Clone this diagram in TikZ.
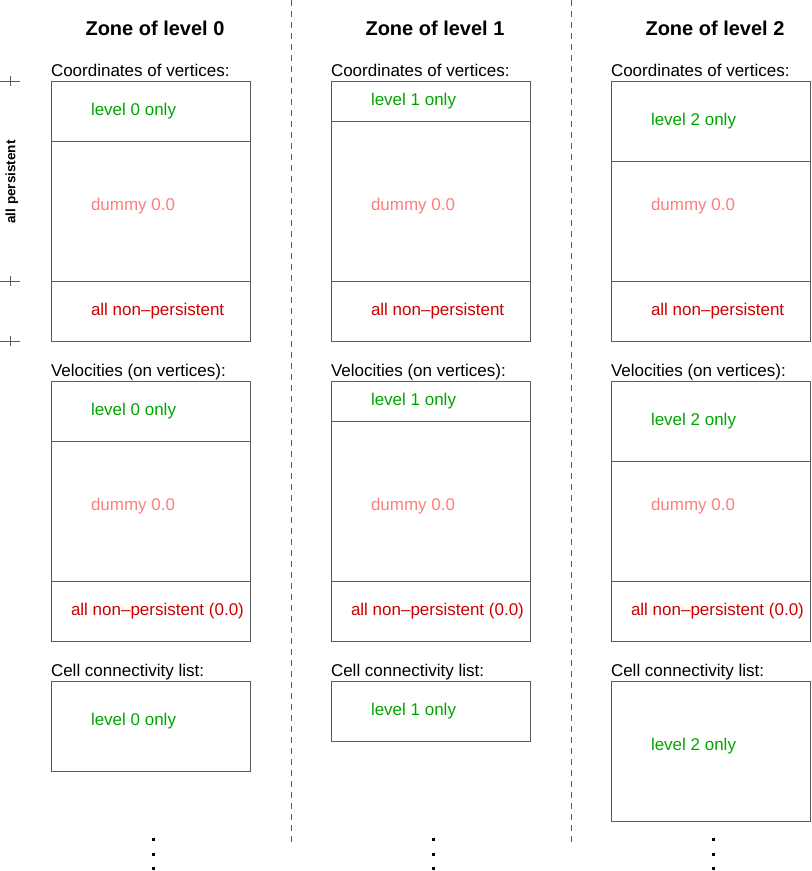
\documentclass[tikz,border=0pt]{standalone}
\usepackage{fontspec}
\setmainfont{Liberation Sans}
\usepackage{tikz}
\usetikzlibrary{positioning}

\definecolor{lvlgreen}{RGB}{0,165,0}
\definecolor{dummypink}{RGB}{255,125,125}
\definecolor{nonred}{RGB}{205,0,0}
\definecolor{linegray}{RGB}{90,90,90}

\begin{document}
\begin{tikzpicture}[x=1pt, y=-1pt, node distance=0pt, every node/.style={inner sep=0pt, outer sep=0pt}]
  \tikzstyle{part}=[draw=linegray, line width=1pt, minimum width=199pt]
  \tikzstyle{title}=[font=\fontsize{20}{22}\selectfont\bfseries]
  \tikzstyle{sec}=[font=\fontsize{17}{19}\selectfont, anchor=base west]
  \tikzstyle{lvl}=[font=\fontsize{17}{19}\selectfont, text=lvlgreen, anchor=west]
  \tikzstyle{dum}=[font=\fontsize{17}{19}\selectfont, text=dummypink, anchor=west]
  \tikzstyle{non}=[font=\fontsize{17}{19}\selectfont, text=nonred, anchor=west]
  \tikzstyle{sep}=[draw=linegray, line width=0.8pt, dash pattern=on 6pt off 5pt]
  \useasboundingbox (0,0) rectangle (812,871);

  % zone separators
  \draw[sep] (291,0) -- (291,845);
  \draw[sep] (571,0) -- (571,845);

  % ticks and rotated label on the left
  \draw[linegray, line width=0.7pt] (0,81) -- (20,81) (10,76) -- (10,86);
  \draw[linegray, line width=0.7pt] (0,281) -- (20,281) (10,276) -- (10,286);
  \draw[linegray, line width=0.7pt] (0,341) -- (20,341) (10,336) -- (10,346);
  \node[font=\fontsize{13.5}{15}\selectfont\bfseries, rotate=90] (persist) at (12,182) {all persistent};

  % titles
  \node[title] (zone0) at (155,28) {Zone of level 0};
  \node[title] (zone1) at (435,28) {Zone of level 1};
  \node[title] (zone2) at (715,28) {Zone of level 2};

  % zone of level 0
  \node[part, minimum height=60pt, anchor=north west] (c0a) at (51,81) {};
  \node[part, minimum height=140pt, below=of c0a] (c0b) {};
  \node[part, minimum height=60pt, below=of c0b] (c0c) {};
  \node[sec] (c0lab) at ([yshift=5pt]c0a.north west) {Coordinates of vertices:};
  \node[lvl] (c0lvl) at (91,111) {level 0 only};
  \node[dum] (c0dum) at (91,206) {dummy 0.0};
  \node[non] (c0non) at (91,311) {all non\textendash persistent};

  \node[part, minimum height=60pt, anchor=north west] (v0a) at (51,381) {};
  \node[part, minimum height=140pt, below=of v0a] (v0b) {};
  \node[part, minimum height=60pt, below=of v0b] (v0c) {};
  \node[sec] (v0lab) at ([yshift=5pt]v0a.north west) {Velocities (on vertices):};
  \node[lvl] (v0lvl) at (91,411) {level 0 only};
  \node[dum] (v0dum) at (91,506) {dummy 0.0};
  \node[non] (v0non) at (71,611) {all non\textendash persistent (0.0)};

  \node[part, minimum height=90pt, anchor=north west] (l0) at (51,681) {};
  \node[sec] (l0lab) at ([yshift=5pt]l0.north west) {Cell connectivity list:};
  \node[lvl] (l0lvl) at (91,721) {level 0 only};

  % zone of level 1
  \node[part, minimum height=40pt, anchor=north west] (c1a) at (331,81) {};
  \node[part, minimum height=160pt, below=of c1a] (c1b) {};
  \node[part, minimum height=60pt, below=of c1b] (c1c) {};
  \node[sec] (c1lab) at ([yshift=5pt]c1a.north west) {Coordinates of vertices:};
  \node[lvl] (c1lvl) at (371,101) {level 1 only};
  \node[dum] (c1dum) at (371,206) {dummy 0.0};
  \node[non] (c1non) at (371,311) {all non\textendash persistent};

  \node[part, minimum height=40pt, anchor=north west] (v1a) at (331,381) {};
  \node[part, minimum height=160pt, below=of v1a] (v1b) {};
  \node[part, minimum height=60pt, below=of v1b] (v1c) {};
  \node[sec] (v1lab) at ([yshift=5pt]v1a.north west) {Velocities (on vertices):};
  \node[lvl] (v1lvl) at (371,401) {level 1 only};
  \node[dum] (v1dum) at (371,506) {dummy 0.0};
  \node[non] (v1non) at (351,611) {all non\textendash persistent (0.0)};

  \node[part, minimum height=60pt, anchor=north west] (l1) at (331,681) {};
  \node[sec] (l1lab) at ([yshift=5pt]l1.north west) {Cell connectivity list:};
  \node[lvl] (l1lvl) at (371,711) {level 1 only};

  % zone of level 2
  \node[part, minimum height=80pt, anchor=north west] (c2a) at (611,81) {};
  \node[part, minimum height=120pt, below=of c2a] (c2b) {};
  \node[part, minimum height=60pt, below=of c2b] (c2c) {};
  \node[sec] (c2lab) at ([yshift=5pt]c2a.north west) {Coordinates of vertices:};
  \node[lvl] (c2lvl) at (651,121) {level 2 only};
  \node[dum] (c2dum) at (651,206) {dummy 0.0};
  \node[non] (c2non) at (651,311) {all non\textendash persistent};

  \node[part, minimum height=80pt, anchor=north west] (v2a) at (611,381) {};
  \node[part, minimum height=120pt, below=of v2a] (v2b) {};
  \node[part, minimum height=60pt, below=of v2b] (v2c) {};
  \node[sec] (v2lab) at ([yshift=5pt]v2a.north west) {Velocities (on vertices):};
  \node[lvl] (v2lvl) at (651,421) {level 2 only};
  \node[dum] (v2dum) at (651,506) {dummy 0.0};
  \node[non] (v2non) at (631,611) {all non\textendash persistent (0.0)};

  \node[part, minimum height=140pt, anchor=north west] (l2) at (611,681) {};
  \node[sec] (l2lab) at ([yshift=5pt]l2.north west) {Cell connectivity list:};
  \node[lvl] (l2lvl) at (651,746) {level 2 only};

  % continuation dots
  \foreach \x in {153,433,713}
    \foreach \y in {839,854,868}
      \fill (\x-1.5,\y-1.5) rectangle (\x+1.5,\y+1.5);
\end{tikzpicture}
\end{document}
